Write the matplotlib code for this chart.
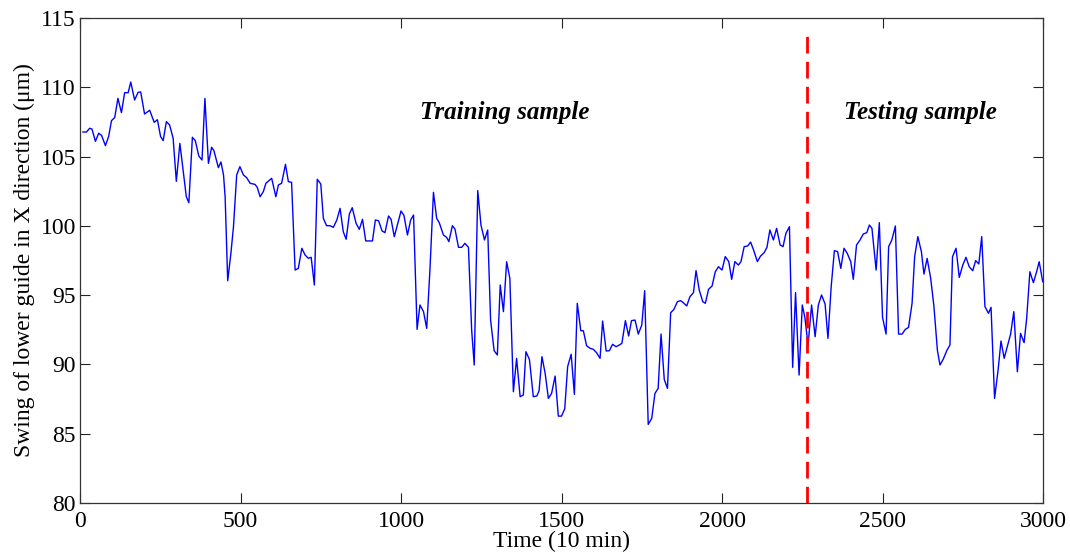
import matplotlib
matplotlib.use("Agg")
import matplotlib.pyplot as plt

time = [9, 20, 30, 37, 48, 58, 67, 79, 89, 98, 108, 118, 129, 139, 150, 158, 170, 181, 189, 201,
        217, 231, 241, 251, 259, 269, 279, 290, 300, 311, 321, 331, 339, 350, 359, 370, 380,
        389, 400, 410, 417, 431, 439, 447, 452, 460, 470, 478, 488, 498, 509, 519, 530, 545, 552,
        561, 571, 579, 597, 610, 618, 628, 640, 649, 659, 670, 680, 691, 701, 711, 720, 730, 739, 750,
        758, 768, 779, 789, 800, 810, 820, 829, 839, 848, 860, 870, 880, 890, 900, 911, 920, 930,
        941, 950, 961, 969, 979, 990, 1000, 1009, 1020, 1030, 1039, 1050, 1059, 1070, 1080, 1090,
        1101, 1111, 1119,
        1132, 1142, 1149, 1160, 1168, 1179, 1189, 1199, 1210, 1220, 1228, 1239, 1249, 1260, 1270,
        1279, 1290, 1300, 1309, 1319, 1329, 1339, 1350, 1360, 1371, 1381, 1389, 1400, 1412, 1423,
        1430, 1439, 1449, 1459, 1469, 1480, 1490, 1500, 1510,
        1519, 1530, 1540, 1549, 1560, 1568, 1578, 1589, 1599, 1609, 1620, 1628, 1639, 1649, 1659,
        1670, 1680, 1688, 1699, 1709, 1718, 1729, 1739, 1750, 1759, 1770, 1781, 1791, 1801, 1810,
        1820, 1830, 1840, 1850, 1861, 1871,
        1879, 1890, 1900, 1911, 1919, 1929, 1940, 1948, 1958, 1969, 1979, 1989, 2000, 2010, 2021,
        2030, 2040, 2051, 2059, 2069, 2080, 2089, 2100, 2110, 2120, 2131, 2140, 2149, 2160, 2170,
        2181, 2190, 2199, 2210, 2220, 2229, 2240, 2250, 2258,
        2268, 2279, 2290, 2300, 2310, 2321, 2330, 2340, 2350, 2360, 2370, 2380, 2390, 2401, 2409,
        2419, 2430, 2440, 2451, 2459, 2467, 2480, 2490, 2500, 2511, 2519, 2529, 2540, 2550, 2561,
        2571, 2581, 2592, 2600, 2610, 2621,
        2629, 2639, 2650, 2660, 2671, 2679, 2689, 2700, 2710, 2718, 2729, 2739, 2750, 2760, 2770,
        2781, 2790, 2800, 2809, 2819, 2830, 2838, 2849, 2860, 2869, 2879, 2890, 2899, 2909, 2920,
        2930, 2941, 2949, 2959, 2970, 2980, 2988, 2999]

swing = [106.77, 106.77, 107.04, 106.99, 106.10, 106.68, 106.53, 105.79, 106.44, 107.59, 107.81,
         109.20, 108.17, 109.61, 109.61, 110.38, 109.08, 109.64, 109.66, 108.07,
         108.34, 107.47, 107.66, 106.44, 106.15, 107.52, 107.28, 106.32, 103.21, 105.95, 104.03,
         102.11, 101.67, 106.39, 106.15, 105.04, 104.75,
         109.20, 104.51, 105.67, 105.43, 104.20, 104.61, 103.67, 102.10, 96.04, 98.02, 99.94,
         103.67, 104.27, 103.67, 103.48, 103.07, 102.99, 102.78,
         102.10, 102.47, 103.07, 103.43, 102.10, 102.95, 103.07, 104.44, 103.19, 103.14, 96.81,
         96.93, 98.38, 97.90, 97.66, 97.73, 95.73, 103.36, 103.02,
         100.54, 100.01, 100.01, 99.89, 100.42, 101.26, 99.58, 99.03, 100.85, 101.31, 100.18,
         99.75, 100.47, 98.91, 98.91, 98.91, 100.42, 100.37,
         99.63, 99.51, 100.71, 100.47, 99.22, 100.18, 101.07, 100.76, 99.34, 100.42, 100.78,
         92.53, 94.29, 93.81, 92.60, 96.81,
         102.42, 100.54, 100.23,
         99.34, 99.17, 98.86, 100.01, 99.77, 98.45, 98.45, 98.74, 98.45, 92.48, 89.96, 102.54,
         100.06, 98.98, 99.70,
         93.20, 90.99, 90.68, 95.73, 93.81, 97.41, 96.21, 88.03, 90.44, 87.67, 87.79, 90.92,
         90.36, 87.67, 87.72,
         88.10, 90.56, 89.35, 87.55, 87.91, 89.16, 86.27, 86.27, 86.80,
         89.84, 90.73, 87.84, 94.41, 92.43, 92.43, 91.35, 91.16, 91.09, 90.85, 90.44, 93.13,
         90.97, 90.99, 91.45,
         91.28, 91.40, 91.52, 93.16, 92.05, 93.16, 93.20, 92.19, 92.84, 95.32, 85.67, 86.11,
         87.91, 88.27, 92.19,
         88.92, 88.27, 93.73, 93.97, 94.53, 94.60,
         94.46, 94.22, 94.89, 95.18, 96.77, 95.37, 94.53, 94.41, 95.42, 95.66, 96.69, 97.05,
         96.81, 97.78, 97.42,
         96.14, 97.42, 97.17, 97.42, 98.50, 98.55, 98.83, 98.14, 97.42, 97.82, 98.06, 98.45,
         99.70, 98.98, 99.82,
         98.62, 98.50, 99.46, 99.94, 89.79, 95.18, 89.23, 94.29, 93.40,
         91.40, 94.29, 92.00, 94.29, 95.01, 94.36, 91.88, 95.61, 98.21, 98.14, 96.93, 98.38,
         98.02, 97.41, 96.14,
         98.62, 98.98, 99.41, 99.51, 100.06, 99.82, 96.81, 100.23, 93.40, 92.19, 98.50, 98.98,
         99.99, 92.19, 92.19,
         92.53, 92.67, 94.41, 97.77, 99.22, 98.14,
         96.52, 97.65, 96.21, 94.21, 91.00, 89.96, 90.37, 90.99, 91.40, 97.77, 98.38, 96.28,
         97.17, 97.73, 97.05,
         96.76, 97.49, 97.25, 99.22, 94.17, 93.69, 94.12, 87.55, 89.59, 91.69, 90.44, 91.40,
         92.19, 93.81, 89.47,
         92.24, 91.57, 93.32, 96.69, 95.90, 96.69, 97.41, 95.97]

split_time = 2265
xticks = [0, 500, 1000, 1500, 2000, 2500, 3000]
yticks = [80, 85, 90, 95, 100, 105, 110, 115]
labels = ["Training sample", "Testing sample"]
label_pos = [(1324, 108.2), (2617, 108.2)]

plt.rcParams['font.family'] = ['Liberation Serif', 'DejaVu Serif']

fig = plt.figure(figsize=(10.7, 5.6), dpi=100)
ax = fig.add_axes([0.0748, 0.1018, 0.9, 0.8661])

ax.plot(time, swing, color='#0000ff', linewidth=1.0)
ax.plot([split_time, split_time], [80, 114.2], color='#ff0000', linewidth=2.0,
        linestyle=(0, (6, 3)))

for txt, (tx, ty) in zip(labels, label_pos):
    ax.text(tx, ty, txt, ha='center', va='center', fontsize=18,
            fontweight='bold', fontstyle='italic')

ax.set_xlim(0, 3000)
ax.set_ylim(80, 115)
ax.set_xticks(xticks)
ax.set_yticks(yticks)
ax.tick_params(direction='in', length=7.5, width=0.8, labelsize=17,
               top=True, right=True, colors='#222222', labelcolor='black')
ax.tick_params(axis='y', pad=3)
ax.tick_params(axis='x', pad=6)
for s in ax.spines.values():
    s.set_linewidth(0.9)
    s.set_color('#333333')

ax.set_xlabel("Time (10 min)", fontsize=17, labelpad=-1)
ax.set_ylabel("Swing of lower guide in X direction (\u03bcm)", fontsize=17, labelpad=4)

fig.savefig("out.png", dpi=100)
